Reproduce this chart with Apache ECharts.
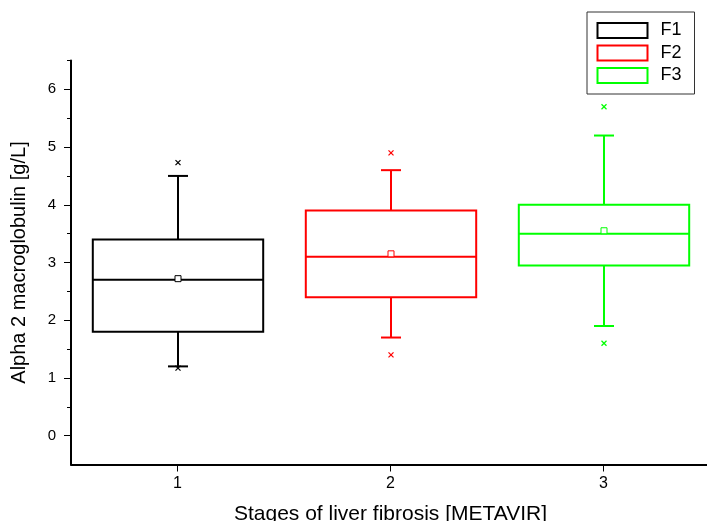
<!DOCTYPE html>
<html>
<head>
<meta charset="utf-8">
<script src="https://cdn.jsdelivr.net/npm/echarts@6/dist/echarts.min.js"></script>
<style>
  html, body { margin: 0; padding: 0; background: #fff; }
  #chart { width: 707px; height: 521px; }
</style>
</head>
<body>
<div id="chart"></div>
<script>
// Alpha 2 macroglobulin by METAVIR fibrosis stage
const stages = ['1', '2', '3'];
const groupNames = ['F1', 'F2', 'F3'];
const groupColors = ['#000000', '#ff0000', '#00ff00'];

const lowerWhisker = [1.2, 1.7, 1.9];
const quartile1 = [1.8, 2.4, 2.95];
const medians = [2.7, 3.1, 3.5];
const quartile3 = [3.4, 3.9, 4.0];
const upperWhisker = [4.5, 4.6, 5.2];
const means = [2.72, 3.15, 3.55];
const minPoints = [1.17, 1.4, 1.6];
const maxPoints = [4.73, 4.9, 5.7];

const yMajorTicks = [0, 1, 2, 3, 4, 5, 6];
const yMinorTicks = [0.5, 1.5, 2.5, 3.5, 4.5, 5.5, 6.5];

const FONT = '"Liberation Sans", Arial, sans-serif';

function renderBox(params, api) {
  const color = groupColors[params.seriesIndex];
  const x = api.value(0);
  const band = api.size([1, 0])[0];
  const half = band * 0.4;
  const cap = 10;
  const pt = v => api.coord([x, v]);
  const lw = pt(api.value(1)), q1 = pt(api.value(2)), md = pt(api.value(3));
  const q3 = pt(api.value(4)), uw = pt(api.value(5)), mn = pt(api.value(6));
  const lo = pt(api.value(7)), hi = pt(api.value(8));
  const cx = Math.round(md[0]);
  const stroke = { stroke: color, lineWidth: 2, fill: null };
  const thin = { stroke: color, lineWidth: 1.3, fill: null };
  const cross = (p) => ({
    type: 'group',
    children: [
      { type: 'line', shape: { x1: cx - 2.5, y1: p[1] - 2.5, x2: cx + 2.5, y2: p[1] + 2.5 }, style: thin },
      { type: 'line', shape: { x1: cx + 2.5, y1: p[1] - 2.5, x2: cx - 2.5, y2: p[1] + 2.5 }, style: thin }
    ]
  });
  return {
    type: 'group',
    children: [
      { type: 'line', shape: { x1: cx, y1: q3[1], x2: cx, y2: uw[1] }, style: stroke },
      { type: 'line', shape: { x1: cx, y1: q1[1], x2: cx, y2: lw[1] }, style: stroke },
      { type: 'line', shape: { x1: cx - cap, y1: uw[1], x2: cx + cap, y2: uw[1] }, style: stroke },
      { type: 'line', shape: { x1: cx - cap, y1: lw[1], x2: cx + cap, y2: lw[1] }, style: stroke },
      { type: 'rect', shape: { x: cx - half, y: q3[1], width: half * 2, height: q1[1] - q3[1] },
        style: { stroke: color, lineWidth: 2, fill: '#fff' } },
      { type: 'line', shape: { x1: cx - half, y1: md[1], x2: cx + half, y2: md[1] }, style: stroke },
      { type: 'rect', shape: { x: cx - 3, y: mn[1] - 3, width: 6, height: 6 },
        style: { stroke: color, lineWidth: 1, fill: '#fff' } },
      cross(lo),
      cross(hi)
    ]
  };
}

const series = groupNames.map((name, i) => ({
  name: name,
  type: 'custom',
  renderItem: renderBox,
  encode: { x: 0, y: [1, 2, 3, 4, 5, 6, 7, 8] },
  itemStyle: { color: '#fff', borderColor: groupColors[i], borderWidth: 2 },
  data: [[i, lowerWhisker[i], quartile1[i], medians[i], quartile3[i],
          upperWhisker[i], means[i], minPoints[i], maxPoints[i]]],
  silent: true,
  animation: false
}));

const chart = echarts.init(document.getElementById('chart'), null, { renderer: 'canvas' });
chart.setOption({
  backgroundColor: '#fff',
  animation: false,
  grid: { left: 71, right: -3, top: 60.5, bottom: 56.5, containLabel: false, outerBoundsMode: 'none' },
  legend: {
    left: 587, top: 12,
    orient: 'vertical',
    backgroundColor: '#fff',
    borderColor: '#333', borderWidth: 1,
    padding: [9.5, 13, 9.5, 9.5],
    itemWidth: 50, itemHeight: 15, itemGap: 4.5,
    selectedMode: false,
    textStyle: { fontFamily: FONT, fontSize: 18, color: '#000', padding: [0, 0, 0, 8] },
    data: groupNames.map((n, i) => ({
      name: n, icon: 'rect',
      itemStyle: { color: '#fff', borderColor: groupColors[i], borderWidth: 2 }
    }))
  },
  xAxis: {
    type: 'category',
    data: stages,
    boundaryGap: true,
    name: 'Stages of liver fibrosis [METAVIR]',
    nameLocation: 'middle',
    nameGap: 39,
    nameTextStyle: { fontFamily: FONT, fontSize: 21, color: '#000' },
    axisLine: { show: true, onZero: false, lineStyle: { color: '#000', width: 2 } },
    axisTick: { show: true, alignWithLabel: true, length: 7, lineStyle: { color: '#000', width: 1 } },
    axisLabel: { fontFamily: FONT, fontSize: 16, color: '#000', margin: 11 },
    splitLine: { show: false }
  },
  yAxis: [
    {
      type: 'value',
      min: -0.5, max: 6.5,
      position: 'left',
      name: 'Alpha 2 macroglobulin [g/L]',
      nameLocation: 'middle',
      nameGap: 42,
      nameTextStyle: { fontFamily: FONT, fontSize: 20, color: '#000' },
      axisLine: { show: true, onZero: false, lineStyle: { color: '#000', width: 2 } },
      axisTick: { show: true, length: 7, customValues: yMajorTicks, lineStyle: { color: '#000', width: 1 } },
      axisLabel: { fontFamily: FONT, fontSize: 15, color: '#000', margin: 15, customValues: yMajorTicks },
      splitLine: { show: false }
    },
    {
      type: 'value',
      min: -0.5, max: 6.5,
      position: 'left',
      offset: 0,
      axisLine: { show: false },
      axisTick: { show: true, length: 4, customValues: yMinorTicks, lineStyle: { color: '#000', width: 1 } },
      axisLabel: { show: false },
      splitLine: { show: false }
    }
  ],
  series: series
});
</script>
</body>
</html>
